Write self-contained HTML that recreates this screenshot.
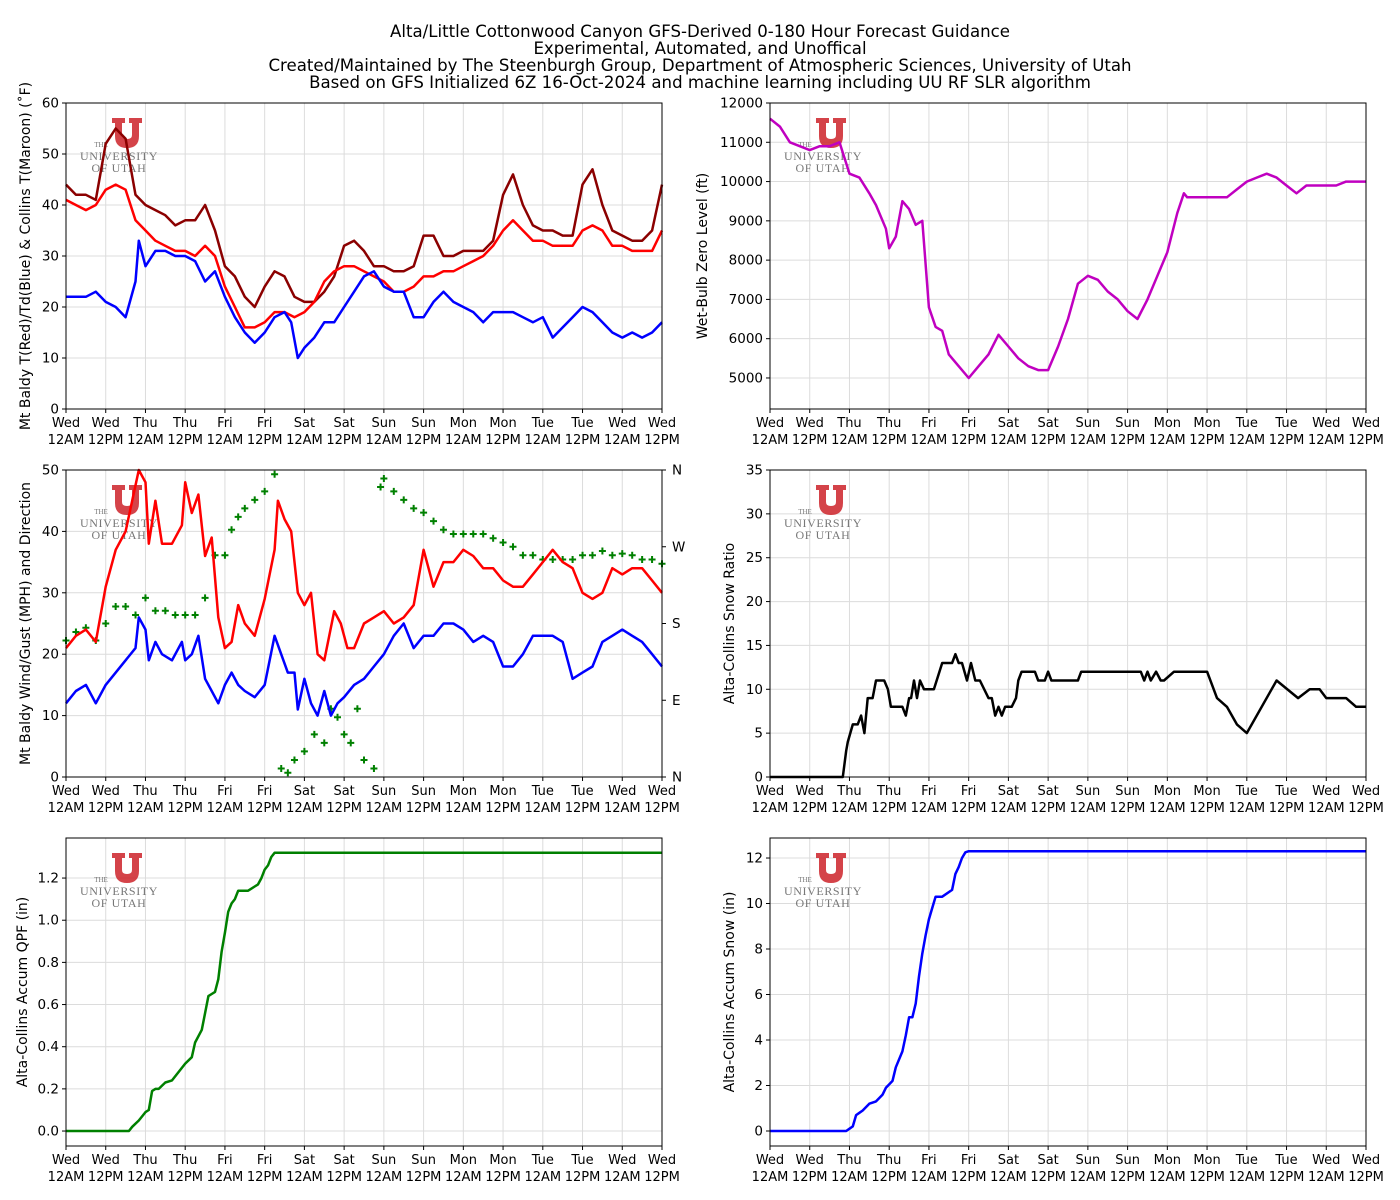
<!DOCTYPE html>
<html><head><meta charset="utf-8"><style>
body{margin:0;background:#fff}
svg{display:block;font-family:"DejaVu Sans","Liberation Sans",sans-serif}
</style></head><body>
<svg id="c" width="1400" height="1200" xmlns="http://www.w3.org/2000/svg">
<g font-size="16.6" text-anchor="middle" fill="#000">
<text x="700" y="37">Alta/Little Cottonwood Canyon GFS-Derived 0-180 Hour Forecast Guidance</text>
<text x="700" y="54">Experimental, Automated, and Unoffical</text>
<text x="700" y="71">Created/Maintained by The Steenburgh Group, Department of Atmospheric Sciences, University of Utah</text>
<text x="700" y="88">Based on GFS Initialized 6Z 16-Oct-2024 and machine learning including UU RF SLR algorithm</text>
</g>
</svg>
<script>
// ---- data ----
const xTickDays=["Wed","Wed","Thu","Thu","Fri","Fri","Sat","Sat","Sun","Sun","Mon","Mon","Tue","Tue","Wed","Wed"];
const xTickTimes=["12AM","12PM","12AM","12PM","12AM","12PM","12AM","12PM","12AM","12PM","12AM","12PM","12AM","12PM","12AM","12PM"];
const hours3=[0,3,6,9,12,15,18,21,24,27,30,33,36,39,42,45,48,51,54,57,60,63,66,69,72,75,78,81,84,87,90,93,96,99,102,105,108,111,114,117,120,123,126,129,132,135,138,141,144,147,150,153,156,159,162,165,168,171,174,177,180];
const tCollins=[44,42,42,41,52,55,53,42,40,39,38,36,37,37,40,35,28,26,22,20,24,27,26,22,21,21,23,26,32,33,31,28,28,27,27,28,34,34,30,30,31,31,31,33,42,46,40,36,35,35,34,34,44,47,40,35,34,33,33,35,44];
const tBaldy=[41,40,39,40,43,44,43,37,35,33,32,31,31,30,32,30,24,20,16,16,17,19,19,18,19,21,25,27,28,28,27,26,25,23,23,24,26,26,27,27,28,29,30,32,35,37,35,33,33,32,32,32,35,36,35,32,32,31,31,31,35];
const tdHours=[0,3,6,9,12,15,18,21,22,24,27,30,33,36,39,42,45,48,51,54,57,60,63,66,68,70,72,75,78,81,84,87,90,93,96,99,102,105,108,111,114,117,120,123,126,129,132,135,138,141,144,147,150,153,156,159,162,165,168,171,174,177,180];
const tdBaldy=[22,22,22,23,21,20,18,25,33,28,31,31,30,30,29,25,27,22,18,15,13,15,18,19,17,10,12,14,17,17,20,23,26,27,24,23,23,18,18,21,23,21,20,19,17,19,19,19,18,17,18,14,16,18,20,19,17,15,14,15,14,15,17];
const wbzHours=[0,3,6,9,12,15,18,21,24,27,30,32,35,36,38,40,42,44,46,48,50,52,54,57,60,63,66,69,72,75,78,81,84,87,90,93,96,99,102,105,108,111,114,117,120,123,125,126,129,132,135,138,141,144,147,150,153,156,159,162,165,168,171,174,177,180];
const wbz=[11600,11400,11000,10900,10800,10900,10900,11000,10200,10100,9700,9400,8800,8300,8600,9500,9300,8900,9000,6800,6300,6200,5600,5300,5000,5300,5600,6100,5800,5500,5300,5200,5200,5800,6500,7400,7600,7500,7200,7000,6700,6500,7000,7600,8200,9200,9700,9600,9600,9600,9600,9600,9800,10000,10100,10200,10100,9900,9700,9900,9900,9900,9900,10000,10000,10000];
const gustHours=[0,3,6,9,12,15,18,20,22,24,25,27,29,32,35,36,38,40,42,44,46,48,50,52,54,57,60,63,64,66,68,70,72,74,76,78,81,83,85,87,90,93,96,99,102,105,108,111,114,117,120,123,126,129,132,135,138,141,144,147,150,153,156,159,162,165,168,171,174,177,180];
const gust=[21,23,24,22,31,37,40,45,50,48,38,45,38,38,41,48,43,46,36,39,26,21,22,28,25,23,29,37,45,42,40,30,28,30,20,19,27,25,21,21,25,26,27,25,26,28,37,31,35,35,37,36,34,34,32,31,31,33,35,37,35,34,30,29,30,34,33,34,34,32,30];
const windHours=[0,3,6,9,12,15,18,21,22,24,25,27,29,32,35,36,38,40,42,44,46,48,50,52,54,57,60,63,65,67,69,70,72,74,76,78,80,82,84,87,90,93,96,99,102,105,108,111,114,117,120,123,126,129,132,135,138,141,144,147,150,153,156,159,162,165,168,171,174,177,180];
const wind=[12,14,15,12,15,17,19,21,26,24,19,22,20,19,22,19,20,23,16,14,12,15,17,15,14,13,15,23,20,17,17,11,16,12,10,14,10,12,13,15,16,18,20,23,25,21,23,23,25,25,24,22,23,22,18,18,20,23,23,23,22,16,17,18,22,23,24,23,22,20,18];
const dirHours=[0,3,6,9,12,15,18,21,24,27,30,33,36,39,42,45,48,50,52,54,57,60,63,65,67,69,72,75,78,80,82,84,86,88,90,93,95,96,99,102,105,108,111,114,117,120,123,126,129,132,135,138,141,144,147,150,153,156,159,162,165,168,171,174,177,180];
const dirDeg=[160,170,175,160,180,200,200,190,210,195,195,190,190,190,210,260,260,290,305,315,325,335,355,10,5,20,30,50,40,80,70,50,40,80,20,10,340,350,335,325,315,310,300,290,285,285,285,285,280,275,270,260,260,255,255,255,255,260,260,265,260,262,260,255,255,250];
const slrHours=[0,22,23,23.5,25,26.5,27.5,28.5,29.5,31,32,34.5,35.6,36.5,40,41,42,42.6,43.5,44.4,45.3,46.5,49.5,52,55,56,57,58,59.5,60.7,62,63.4,66,67,68,69,70,71,73,74.3,75,76,80,81,83,84,85,93,94,112,113,114,115,116.6,118,119,122,132,135,138,141,144,153,159.5,163,166,168,174,177,180];
const slr=[0,0,3,4,6,6,7,5,9,9,11,11,10,8,8,7,9,9,11,9,11,10,10,13,13,14,13,13,11,13,11,11,9,9,7,8,7,8,8,9,11,12,12,11,11,12,11,11,12,12,11,12,11,12,11,11,12,12,9,8,6,5,11,9,10,10,9,9,8,8];
const qpfHours=[0,19,20,22,24,25,26,27,28,30,32,34,36,38,39,41,42,43,44,45,46,47,48,49,50,51,52,55,57,58,59,60,61,62,63,180];
const qpf=[0,0,0.02,0.05,0.09,0.1,0.19,0.2,0.2,0.23,0.24,0.28,0.32,0.35,0.42,0.48,0.56,0.64,0.65,0.66,0.72,0.85,0.94,1.04,1.08,1.1,1.14,1.14,1.16,1.17,1.2,1.24,1.26,1.3,1.32,1.32];
const snowHours=[0,23,24,25,26,27,28,30,32,34,35,37,38,40,41,42,43,44,45,46,47,48,49,50,52,55,56,57,58,59,60,180];
const snow=[0,0,0.1,0.2,0.7,0.8,0.9,1.2,1.3,1.6,1.9,2.2,2.8,3.5,4.2,5.0,5.0,5.6,6.8,7.8,8.6,9.3,9.8,10.3,10.3,10.6,11.3,11.6,12.0,12.25,12.3,12.3];

const NS="http://www.w3.org/2000/svg";
const svg=document.getElementById('c');
function mk(tag,attrs,parent){const e=document.createElementNS(NS,tag);for(const k in attrs)e.setAttribute(k,attrs[k]);(parent||svg).appendChild(e);return e;}

function panel(p){
  const g=mk('g',{});
  
  
  const xs=h=>p.x0+(h/180)*(p.x1-p.x0);
  const ys=v=>p.y1-(v-p.ymin)/(p.ymax-p.ymin)*(p.y1-p.y0);
  for(let i=0;i<16;i++){const x=xs(i*12);mk('line',{x1:x,x2:x,y1:p.y0,y2:p.y1,stroke:'#dcdcdc','stroke-width':1},g);}
  p.yticks.forEach(v=>{const y=ys(v);mk('line',{x1:p.x0,x2:p.x1,y1:y,y2:y,stroke:'#dcdcdc','stroke-width':1},g);});
  const lg=mk('g',{},g);
  
  
  const lx=p.x0+46, ly=p.y0+15;
  mk('path',{d:`M${lx} ${ly}h13v5h-3v12q0,4 5,4 5,0 5,-4v-12h-3v-5h13v5h-3v13q0,12 -12,12 -12,0 -12,-12v-13h-3z`,fill:'#cc2229','fill-opacity':0.85},lg);
  const t1=mk('text',{x:lx-11,y:ly+29,'font-size':7,fill:'#777','font-family':'Liberation Serif,serif','text-anchor':'middle'},lg);t1.textContent='THE';
  const t2=mk('text',{x:lx+7,y:ly+42,'font-size':12,fill:'#777','font-family':'Liberation Serif,serif','text-anchor':'middle','letter-spacing':'0.6'},lg);t2.textContent='UNIVERSITY';
  const t3=mk('text',{x:lx+7,y:ly+54,'font-size':12,fill:'#777','font-family':'Liberation Serif,serif','text-anchor':'middle','letter-spacing':'0.6'},lg);t3.textContent='OF UTAH';
  p.series.forEach(s=>{
    if(s.marker){
      s.h.forEach((h,i)=>{
        const v=s.v[i]; if(v<s.min||v>s.max) return;
        const x=xs(h), y=p.y1-(v-s.min)/(s.max-s.min)*(p.y1-p.y0);
        const m=mk('path',{d:`M${x-3.5} ${y}h7M${x} ${y-3.5}v7`,stroke:s.color,'stroke-width':2},g);
        
        
      });
    } else {
      const d=s.h.map((h,i)=>(i?'L':'M')+xs(h).toFixed(1)+' '+ys(s.v[i]).toFixed(1)).join('');
      const l=mk('path',{d:d,fill:'none',stroke:s.color,'stroke-width':2.5,'stroke-linejoin':'round'},g);
      
      
    }
  });
  mk('rect',{x:p.x0,y:p.y0,width:p.x1-p.x0,height:p.y1-p.y0,fill:'none',stroke:'#000','stroke-width':1},g);
  p.yticks.forEach((v,i)=>{const y=ys(v);mk('line',{x1:p.x0-4,x2:p.x0,y1:y,y2:y,stroke:'#000'},g);
    const t=mk('text',{x:p.x0-7,y:y+4.5,'font-size':13.5,'text-anchor':'end'},g);t.textContent=p.ylabels?p.ylabels[i]:String(v);});
  if(p.right){p.right.labels.forEach((lab,i)=>{const y=p.y1-(p.right.vals[i]/360)*(p.y1-p.y0);
    mk('line',{x1:p.x1,x2:p.x1+4,y1:y,y2:y,stroke:'#000'},g);
    const t=mk('text',{x:p.x1+10,y:y+4.5,'font-size':13.5},g);t.textContent=lab;});}
  for(let i=0;i<16;i++){const x=xs(i*12);mk('line',{x1:x,x2:x,y1:p.y1,y2:p.y1+4,stroke:'#000'},g);
    const a=mk('text',{x:x,y:p.y1+18,'font-size':13,'text-anchor':'middle'},g);a.textContent=xTickDays[i];
    const b=mk('text',{x:x,y:p.y1+35,'font-size':13,'text-anchor':'middle'},g);b.textContent=xTickTimes[i];}
  const cy=(p.y0+p.y1)/2;
  const yl=mk('text',{x:p.lx,y:cy,'font-size':14,'text-anchor':'middle',transform:`rotate(-90 ${p.lx} ${cy})`},g);
  yl.textContent=p.ylabel;
  
  
}
const L={x0:66,x1:662}, R={x0:770,x1:1366};
panel({name:'temperature-panel',...L,y0:103,y1:409,ymin:0,ymax:60,yticks:[0,10,20,30,40,50,60],lx:30,
  ylabel:'Mt Baldy T(Red)/Td(Blue) & Collins T(Maroon) (˚F)',
  series:[{name:'collins-temp-line',h:hours3,v:tCollins,color:'#8b0000'},{name:'baldy-temp-line',h:hours3,v:tBaldy,color:'#ff0000'},{name:'baldy-dewpoint-line',h:tdHours,v:tdBaldy,color:'#0000ff'}]});
panel({name:'wet-bulb-zero-panel',...R,y0:103,y1:409,ymin:4210,ymax:12000,yticks:[5000,6000,7000,8000,9000,10000,11000,12000],lx:707,
  ylabel:'Wet-Bulb Zero Level (ft)',series:[{name:'wbz-line',h:wbzHours,v:wbz,color:'#c000c0'}]});
panel({name:'wind-panel',...L,y0:470,y1:777,ymin:0,ymax:50,yticks:[0,10,20,30,40,50],lx:30,
  ylabel:'Mt Baldy Wind/Gust (MPH) and Direction',right:{labels:['N','E','S','W','N'],vals:[0,90,180,270,360]},
  series:[{name:'wind-direction',h:dirHours,v:dirDeg,color:'#008000',marker:true,min:0,max:360},{name:'gust-line',h:gustHours,v:gust,color:'#ff0000'},{name:'wind-speed-line',h:windHours,v:wind,color:'#0000ff'}]});
panel({name:'snow-ratio-panel',...R,y0:470,y1:777,ymin:0,ymax:35,yticks:[0,5,10,15,20,25,30,35],lx:734,
  ylabel:'Alta-Collins Snow Ratio',series:[{name:'slr-line',h:slrHours,v:slr,color:'#000'}]});
panel({name:'qpf-panel',...L,y0:838,y1:1146,ymin:-0.071,ymax:1.39,yticks:[0,0.2,0.4,0.6,0.8,1.0,1.2],ylabels:['0.0','0.2','0.4','0.6','0.8','1.0','1.2'],lx:27,
  ylabel:'Alta-Collins Accum QPF (in)',series:[{name:'qpf-line',h:qpfHours,v:qpf,color:'#008000'}]});
panel({name:'snow-accum-panel',...R,y0:838,y1:1146,ymin:-0.66,ymax:12.88,yticks:[0,2,4,6,8,10,12],lx:734,
  ylabel:'Alta-Collins Accum Snow (in)',series:[{name:'snow-line',h:snowHours,v:snow,color:'#0000ff'}]});
</script>
</body></html>
